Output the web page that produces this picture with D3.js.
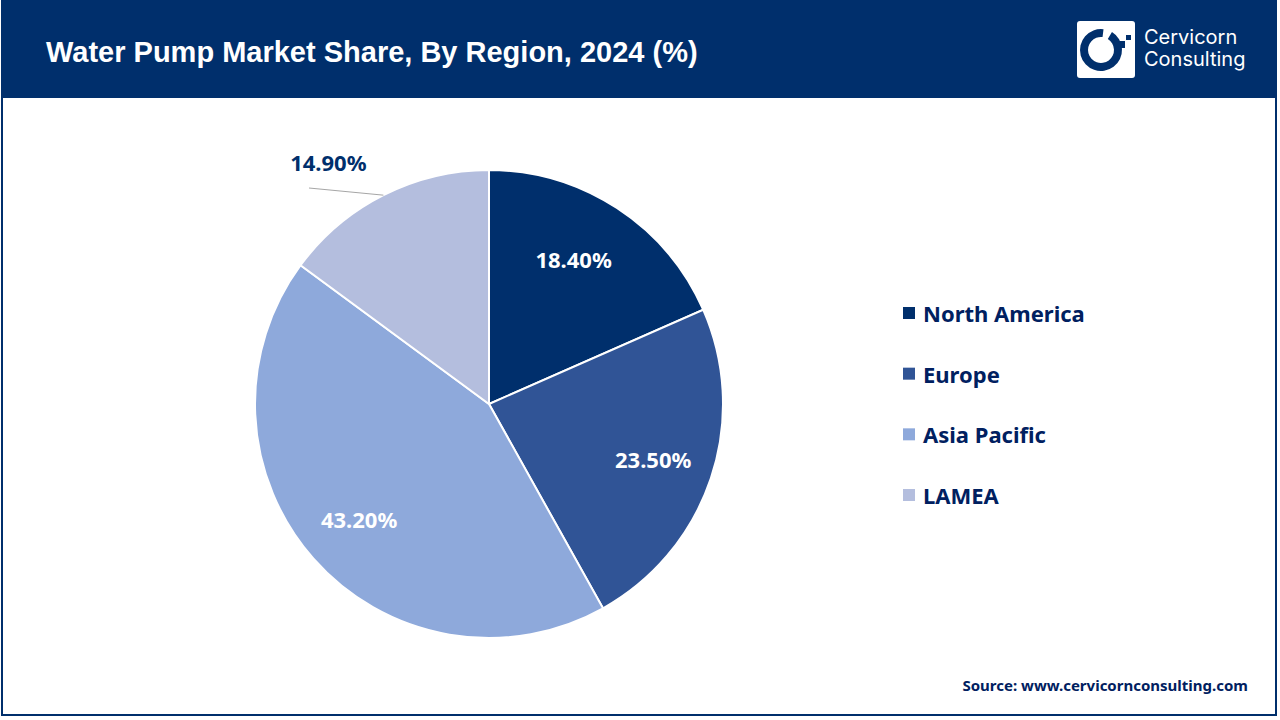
<!DOCTYPE html>
<html>
<head>
<meta charset="utf-8">
<script src="https://cdn.jsdelivr.net/npm/d3@7"></script>
<style>
  html, body { margin: 0; padding: 0; background: #fff; }
  svg { display: block; }
</style>
</head>
<body>
<svg id="chart" width="1280" height="720"></svg>
<script>
// chart data
const regions = ['North America', 'Europe', 'Asia Pacific', 'LAMEA'];
const shares = [18.4, 23.5, 43.2, 14.9];
const colors = ['#002F6C', '#305496', '#8EA9DB', '#B4BEDE'];
const labelColors = ['#ffffff', '#ffffff', '#ffffff', '#002F6C'];

const titleText = 'Water Pump Market Share, By Region, 2024 (%)';
const sourceText = 'Source: www.cervicornconsulting.com';
const navy = '#002F6C';
const labelFont = '"Noto Sans", "Open Sans", sans-serif';

const svg = d3.select('#chart');

// frame and header band
svg.append('rect')
    .attr('x', 2).attr('y', 1)
    .attr('width', 1274).attr('height', 714)
    .attr('fill', '#fff')
    .attr('stroke', navy).attr('stroke-width', 2);
svg.append('rect')
    .attr('x', 1).attr('y', 0)
    .attr('width', 1276).attr('height', 98)
    .attr('fill', navy);
svg.append('text')
    .attr('x', 46).attr('y', 62)
    .attr('fill', '#fff')
    .style('font', 'bold 29px "Liberation Sans", Arial, sans-serif')
    .text(titleText);

// logo
const logo = svg.append('g');
logo.append('rect')
    .attr('x', 1077).attr('y', 21)
    .attr('width', 58).attr('height', 57).attr('rx', 3)
    .attr('fill', '#fff');
logo.append('path')
    .attr('transform', 'translate(1101,50)')
    .attr('d', d3.arc()({
        innerRadius: 13, outerRadius: 21,
        startAngle: 0.55, endAngle: Math.PI * 2 + 0.12
    }))
    .attr('fill', navy);
logo.append('rect').attr('x', 1118).attr('y', 41).attr('width', 7).attr('height', 7).attr('fill', navy);
logo.append('rect').attr('x', 1126).attr('y', 35).attr('width', 5).attr('height', 5).attr('fill', navy);
logo.selectAll('text.logo-text')
    .data(['Cervicorn', 'Consulting'])
    .join('text')
    .attr('class', 'logo-text')
    .attr('x', 1144)
    .attr('y', (d, i) => 44 + i * 22)
    .attr('fill', '#fff')
    .style('font', '20px Inter, Roboto, sans-serif')
    .text(d => d);

// pie
const cx = 489, cy = 404, radius = 234;
const pie = d3.pie().sort(null).value(d => d);
const arc = d3.arc().innerRadius(0).outerRadius(radius);
const arcs = pie(shares);

const pieG = svg.append('g').attr('transform', `translate(${cx},${cy})`);
pieG.selectAll('path')
    .data(arcs)
    .join('path')
    .attr('d', arc)
    .attr('fill', (d, i) => colors[i])
    .attr('stroke', '#fff')
    .attr('stroke-width', 2);

// labels sit at a set fraction of the radius, LAMEA goes outside with a leader
const labelRadius = [0.74, 0.74, 0.74, 1.19];
const labelPoint = (d, i) => {
    const a = (d.startAngle + d.endAngle) / 2;
    const r = radius * labelRadius[i];
    return [Math.sin(a) * r, -Math.cos(a) * r];
};
const labelOffset = [[-10, 0], [0, 0], [0, 0], [-35, 6]];

pieG.selectAll('text')
    .data(arcs)
    .join('text')
    .attr('x', (d, i) => labelPoint(d, i)[0] + labelOffset[i][0])
    .attr('y', (d, i) => labelPoint(d, i)[1] + labelOffset[i][1])
    .attr('text-anchor', 'middle')
    .attr('dominant-baseline', 'central')
    .attr('fill', (d, i) => labelColors[i])
    .style('font', `bold 22px ${labelFont}`)
    .text((d, i) => shares[i].toFixed(2) + '%');

// leader line for the outside label
const lameaMid = (arcs[3].startAngle + arcs[3].endAngle) / 2;
pieG.append('line')
    .attr('x1', 309 - cx).attr('y1', 188 - cy)
    .attr('x2', Math.sin(lameaMid) * radius).attr('y2', -Math.cos(lameaMid) * radius)
    .attr('stroke', '#A6A6A6').attr('stroke-width', 1);

// legend
const legendY = d3.scalePoint().domain(regions).range([313, 495]);
const legend = svg.append('g');
legend.selectAll('rect')
    .data(regions)
    .join('rect')
    .attr('x', 903)
    .attr('y', d => legendY(d) - 6)
    .attr('width', 12).attr('height', 12)
    .attr('fill', (d, i) => colors[i]);
legend.selectAll('text')
    .data(regions)
    .join('text')
    .attr('x', 923)
    .attr('y', d => legendY(d))
    .attr('dominant-baseline', 'central')
    .attr('fill', '#002060')
    .style('font', `bold 22px ${labelFont}`)
    .text(d => d);

// source note
svg.append('text')
    .attr('x', 1248).attr('y', 691)
    .attr('text-anchor', 'end')
    .attr('fill', '#002060')
    .style('font', `bold 15px ${labelFont}`)
    .text(sourceText);
</script>
</body>
</html>
